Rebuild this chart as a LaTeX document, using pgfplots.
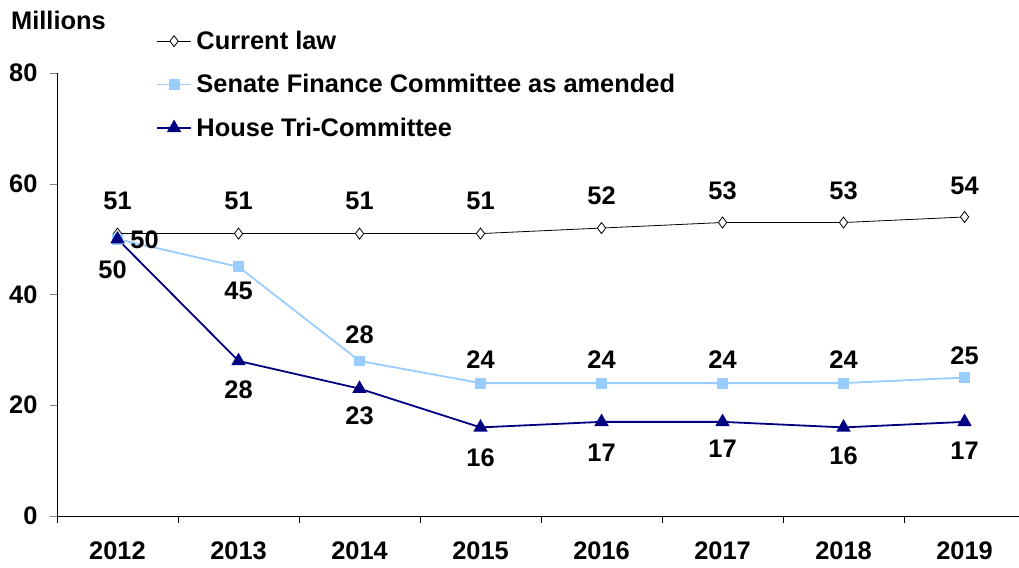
\documentclass[border=0pt]{standalone}
\usepackage{pgfplots}
\usepackage{pgfplotstable}
\pgfplotsset{compat=1.18}
\usepackage{fontspec}
\setmainfont{Liberation Sans}
\definecolor{senate}{RGB}{153,204,255}
\definecolor{house}{RGB}{0,0,128}

% x: 0 = 2012 ... 7 = 2019; dx/dy: label offset from the point (bp)
\pgfplotstableread{
x y dx dy
0 51 0 33
1 51 0 33
2 51 0 33
3 51 0 33
4 52 0 32
5 53 0 32
6 53 0 32
7 54 0 31
}\curlaw
\pgfplotstableread{
x y dx dy
0 50 27 -1
1 45 0 -24
2 28 0 26
3 24 0 23
4 24 0 23
5 24 0 23
6 24 0 23
7 25 0 22
}\senate
\pgfplotstableread{
x y dx dy
0 50 -5 -31
1 28 0 -29
2 23 0 -27
3 16 0 -30
4 17 0 -31
5 17 0 -27
6 16 0 -28
7 17 0 -29
}\house

\newcommand{\lbl}{\fontsize{25.5}{30}\selectfont\bfseries}

\begin{document}
\begin{tikzpicture}
\path[use as bounding box] (-57bp,-52bp) rectangle (962bp,516bp);
\begin{axis}[
  scale only axis, width=962bp, height=443bp,
  xmin=-0.5, xmax=7.45, ymin=0, ymax=80,
  axis x line*=bottom, axis y line*=left,
  axis line style={black, line width=0.8bp},
  xtick={0,...,7},
  xticklabels={2012,2013,2014,2015,2016,2017,2018,2019},
  minor xtick={-0.5,0.5,...,6.5},
  major x tick style={draw=none},
  minor x tick style={black, line width=0.8bp},
  ytick={0,20,40,60,80},
  tick align=outside,
  major tick length=7bp, minor tick length=7bp,
  tick label style={font=\lbl, text=black},
  x tick label style={yshift=-15bp},
  y tick label style={xshift=-9bp},
  /pgf/number format/assume math mode=true,
  clip=false,
  legend style={draw=none, fill=none, at={(99bp,487bp)}, anchor=north west,
    font=\lbl, row sep=19.5bp, inner sep=0pt,
    /tikz/every odd column/.append style={column sep=2.5bp}},
  legend cell align=left,
  legend image code/.code={\draw[mark repeat=2, mark phase=2]
    plot coordinates {(0bp,0bp) (17bp,0bp) (34bp,0bp)};},
  nodes near coords,
  point meta=y,
  every node near coord/.append style={font=\lbl, text=black, anchor=center,
    xshift=\dx bp, yshift=\dy bp},
  visualization depends on={\thisrow{dx} \as \dx},
  visualization depends on={\thisrow{dy} \as \dy},
]
\addplot[black, line width=0.8bp, mark=diamond*, mark size=5.5bp,
  mark options={fill=white, solid}] table[x=x, y=y] {\curlaw};
\addlegendentry{Current law}
\addplot[senate, line width=1.8bp, mark=square*, mark size=4.5bp,
  mark options={fill=senate}] table[x=x, y=y] {\senate};
\addlegendentry{Senate Finance Committee as amended}
\addplot[house, line width=1.8bp, mark=triangle*, mark size=6.5bp,
  mark options={fill=house}] table[x=x, y=y] {\house};
\addlegendentry{House Tri-Committee}
\end{axis}
\node[anchor=west, font=\lbl, inner sep=0pt] at (-46bp, 496bp) {Millions};
\end{tikzpicture}
\end{document}
